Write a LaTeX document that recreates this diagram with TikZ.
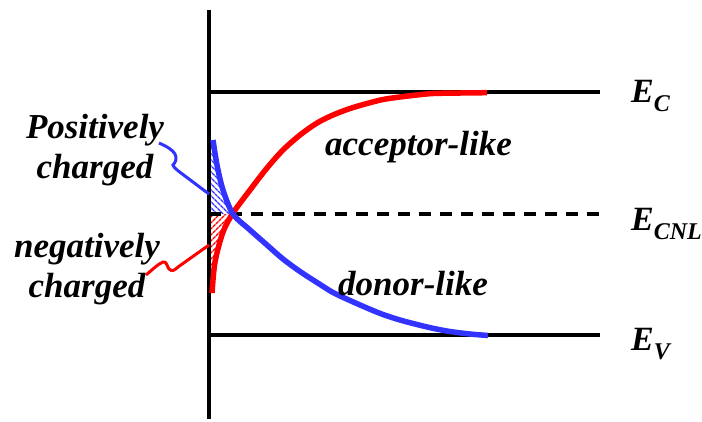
\documentclass[tikz,border=0pt]{standalone}
\usepackage{fontspec}
\setmainfont{Liberation Serif}
\newfontfamily\tnr{Liberation Serif}
\usetikzlibrary{patterns.meta}
\definecolor{myblue}{RGB}{51,51,255}
\definecolor{myred}{RGB}{255,0,0}
\newcommand{\esub}[1]{\raisebox{-9pt}{\fontsize{24}{24}\selectfont #1}}
\begin{document}
\begin{tikzpicture}[x=1pt,y=-1pt,
  lbl/.style={font=\tnr\fontsize{35}{39.5}\selectfont\bfseries\itshape, inner sep=0pt, align=center},
  elbl/.style={font=\tnr\fontsize{34}{40}\selectfont\bfseries\itshape, inner sep=0pt, anchor=base west},
  band/.style={line width=4pt, black},
  curve/.style={line width=5.5pt},
  leader/.style={line width=3pt}]
\useasboundingbox[fill=white] (0,0) rectangle (702,421);

% coordinates
\coordinate (axtop) at (209,10);
\coordinate (axbot) at (209,419);
\coordinate (ecl) at (209,92);
\coordinate (ecr) at (600,92);
\coordinate (evl) at (209,335);
\coordinate (evr) at (600,335);
\coordinate (cnll) at (209,214);
\coordinate (cnlr) at (600,214);
\coordinate (bluetip) at (209,194);
\coordinate (redtip) at (209,245);

% hatched areas
\fill[pattern={Lines[angle=-45,distance=4pt,line width=1.5pt]}, pattern color=myblue]
  (210,141) -- plot[smooth] coordinates {(213,141) (217,165) (223,190) (232,214)} -- (210,214) -- cycle;
\fill[pattern={Lines[angle=45,distance=4pt,line width=1.5pt]}, pattern color=myred]
  (210,214) -- plot[smooth] coordinates {(232,214) (223,232) (215,262) (212,293)} -- (210,293) -- cycle;

% axis and levels
\draw[line width=4pt] (axtop) -- (axbot);
\draw[band] (ecl) -- (ecr);
\draw[band] (evl) -- (evr);
\draw[line width=3.3pt, dash pattern=on 12pt off 9pt] (cnll) -- (cnlr);

% curves
\draw[curve, myred] plot[smooth] coordinates {(212,293) (215,262) (223,232) (233,213) (250,190) (267,168) (283,150) (300,135) (317,123) (333,115) (350,108.5) (367,103.5) (383,99.5) (400,97) (417,95) (433,93.5) (460,93) (487,92.7)};
\draw[curve, myblue] plot[smooth] coordinates {(213,140) (217,165) (223,190) (233,214) (250,230) (267,245) (283,259) (300,271.5) (317,282.5) (333,292.5) (350,300.5) (367,308) (383,314.5) (400,320) (417,324.5) (433,328.3) (450,331.5) (470,334) (488,335.5)};

% labels
\node[lbl, anchor=base] (pos) at (95,178) {Positively\\charged};
\node[lbl, anchor=base] (neg) at (87,297) {negatively\\charged};
\node[lbl, anchor=base west] (acc) at (325,155) {acceptor-like};
\node[lbl, anchor=base west] (don) at (338,295) {donor-like};
\node[elbl] (ec) at (631,102) {E\esub{C}};
\node[elbl] (ecnl) at (631,230) {E\esub{CNL}};
\node[elbl] (ev) at (631,350) {E\esub{V}};

% leaders
\coordinate (bl0) at (159,143);
\coordinate (rl0) at (146,275);
\draw[leader, myblue] (bl0) .. controls (166,146) and (173,150) .. (175,154)
  .. controls (177,158) and (176,162) .. (173,165) .. controls (174,168) and (177,170) .. (181,173) -- (bluetip);
\draw[leader, myred] (rl0) .. controls (152,270) and (158,264) .. (163,262)
  .. controls (167,261) and (167,267) .. (169,269) .. controls (172,272) and (175,270) .. (178,267) -- (redtip);
\end{tikzpicture}
\end{document}
